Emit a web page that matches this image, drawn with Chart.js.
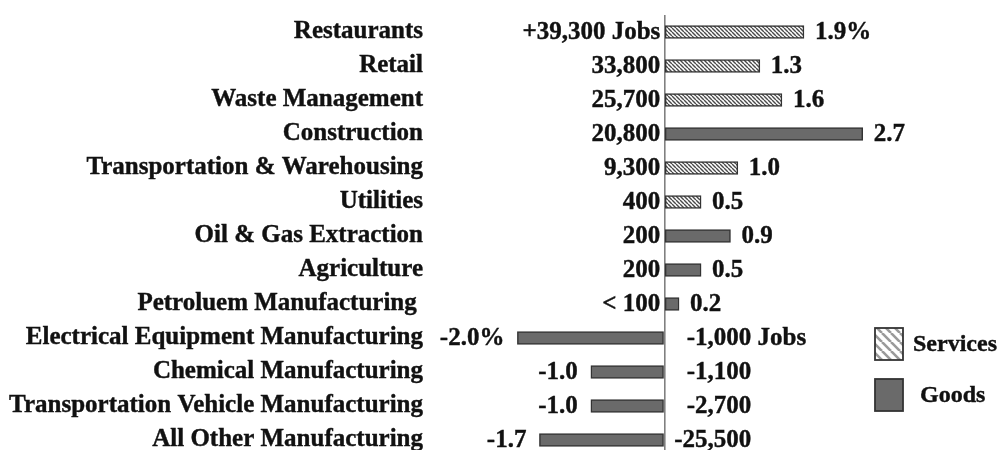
<!DOCTYPE html>
<html>
<head>
<meta charset="utf-8">
<script src="https://cdn.jsdelivr.net/npm/chart.js@4.4.1/dist/chart.umd.min.js"></script>
<style>
  html, body { margin: 0; padding: 0; background: #fff; overflow: hidden; }
  #wrap { position: relative; width: 1003px; height: 460px; }
</style>
</head>
<body>
<div id="wrap"><canvas id="chart"></canvas></div>
<script>
// industries, top to bottom
const categories = [
  "Restaurants",
  "Retail",
  "Waste Management",
  "Construction",
  "Transportation & Warehousing",
  "Utilities",
  "Oil & Gas Extraction",
  "Agriculture",
  "Petroluem Manufacturing ",
  "Electrical Equipment Manufacturing",
  "Chemical Manufacturing",
  "Transportation Vehicle Manufacturing",
  "All Other Manufacturing"
];
const sectors = ["Services", "Services", "Services", "Goods", "Services", "Services",
  "Goods", "Goods", "Goods", "Goods", "Goods", "Goods", "Goods"];
// % change (bar length)
const pctChange = [1.9, 1.3, 1.6, 2.7, 1.0, 0.5, 0.9, 0.5, 0.2, -2.0, -1.0, -1.0, -1.7];
const pctLabels = ["1.9%", "1.3", "1.6", "2.7", "1.0", "0.5", "0.9", "0.5", "0.2", "-2.0%", "-1.0", "-1.0", "-1.7"];
// job change
const jobLabels = ["+39,300", "33,800", "25,700", "20,800", "9,300", "400", "200", "200", "< 100",
  "-1,000", "-1,100", "-2,700", "-25,500"];
const jobSuffix = [" Jobs", "", "", "", "", "", "", "", "", " Jobs", "", "", ""];
const legendLabels = ["Services", "Goods"];

const FAMILY = '"Liberation Serif", "Times New Roman", serif';
const FONT = 'bold 25px ' + FAMILY;
const LEGEND_FONT = 'bold 24px ' + FAMILY;
const GOODS = "#6a6a6a";
const EDGE = "#333";

// diagonal hatch ( \\\ ) used for services
function makeHatch(size, lineW, color) {
    const c = document.createElement("canvas");
    c.width = size;
    c.height = size;
    const g = c.getContext("2d");
    g.fillStyle = "#fff";
    g.fillRect(0, 0, size, size);
    g.strokeStyle = color;
    g.lineWidth = lineW;
    g.beginPath();
    for (let k = -1; k <= 1; k++) {
        g.moveTo(k * size, 0);
        g.lineTo(k * size + size, size);
    }
    g.stroke();
    return g.createPattern(c, "repeat");
}

const ctx = document.getElementById("chart").getContext("2d");
const barHatch = makeHatch(4, 1.4, "#4a4a4a");
const legendHatch = makeHatch(9, 2.6, "#9a9a9a");

// draws text slightly heavier, like the scanned original
function boldText(ctx, s, x, y) {
    ctx.fillText(s, x, y);
    ctx.strokeText(s, x, y);
}

const barLabels = {
    id: "barLabels",
    afterDatasetsDraw(chart) {
        const { ctx, scales: { x, y } } = chart;
        const zero = x.getPixelForValue(0);
        ctx.save();
        ctx.font = FONT;
        ctx.fillStyle = "#111";
        ctx.strokeStyle = "#111";
        ctx.lineWidth = 0.4;
        ctx.textBaseline = "middle";
        categories.forEach((c, i) => {
            const yy = y.getPixelForValue(i) + 1;
            const end = x.getPixelForValue(pctChange[i]);
            if (pctChange[i] >= 0) {
                ctx.textAlign = "right";
                boldText(ctx, jobLabels[i] + jobSuffix[i], zero - 4, yy);
                ctx.textAlign = "left";
                boldText(ctx, pctLabels[i], end + 11, yy);
            } else {
                ctx.textAlign = "right";
                boldText(ctx, jobLabels[i], zero + 87, yy);
                ctx.textAlign = "left";
                boldText(ctx, jobSuffix[i], zero + 87, yy);
                ctx.textAlign = "right";
                boldText(ctx, pctLabels[i], end - 13, yy);
            }
        });
        ctx.restore();
    }
};

// legend at the lower right
const sideLegend = {
    id: "sideLegend",
    afterDraw(chart) {
        const { ctx } = chart;
        const fills = [legendHatch, GOODS];
        const boxY = [328, 379];
        const textX = [913, 920];
        ctx.save();
        legendLabels.forEach((lab, i) => {
            ctx.fillStyle = fills[i];
            ctx.fillRect(875, boxY[i], 28, 32);
            ctx.strokeStyle = EDGE;
            ctx.lineWidth = 1.8;
            ctx.strokeRect(875, boxY[i], 28, 32);
            ctx.font = LEGEND_FONT;
            ctx.fillStyle = "#111";
            ctx.strokeStyle = "#111";
            ctx.lineWidth = 0.4;
            ctx.textAlign = "left";
            ctx.textBaseline = "middle";
            boldText(ctx, lab, textX[i], boxY[i] + 17);
        });
        ctx.restore();
    }
};

new Chart(ctx, {
    type: "bar",
    data: {
        labels: categories,
        datasets: [
            {
                label: "Services",
                data: pctChange.map((v, i) => sectors[i] === "Services" ? v : null),
                backgroundColor: barHatch,
                borderColor: EDGE,
                borderWidth: 1.5,
                borderSkipped: false,
                barThickness: 13,
                grouped: false
            },
            {
                label: "Goods",
                data: pctChange.map((v, i) => sectors[i] === "Goods" ? v : null),
                backgroundColor: GOODS,
                borderColor: EDGE,
                borderWidth: 1.5,
                borderSkipped: false,
                barThickness: 13,
                grouped: false
            }
        ]
    },
    options: {
        indexAxis: "y",
        responsive: true,
        maintainAspectRatio: false,
        animation: false,
        layout: { padding: { top: 15, bottom: 3, right: 8, left: 0 } },
        plugins: {
            legend: { display: false },
            tooltip: { enabled: false }
        },
        scales: {
            x: {
                type: "linear",
                min: -2.4,
                max: 4.5,
                afterBuildTicks: (scale) => { scale.ticks = [{ value: 0 }]; },
                ticks: { display: false },
                border: { display: false },
                grid: {
                    drawTicks: false,
                    lineWidth: 1.6,
                    color: (c) => (c.tick && c.tick.value === 0 ? "#808080" : "transparent")
                }
            },
            y: {
                grid: { display: false, drawTicks: false },
                border: { display: false },
                ticks: {
                    padding: 65,
                    color: "#111",
                    textStrokeColor: "#111",
                    textStrokeWidth: 0.4,
                    font: { family: FAMILY, weight: "bold", size: 25 }
                },
                afterFit: (scale) => {
                    scale.width = 488;
                    scale.paddingTop = 0;
                    scale.paddingBottom = 0;
                }
            }
        }
    },
    plugins: [barLabels, sideLegend]
});
</script>
</body>
</html>
